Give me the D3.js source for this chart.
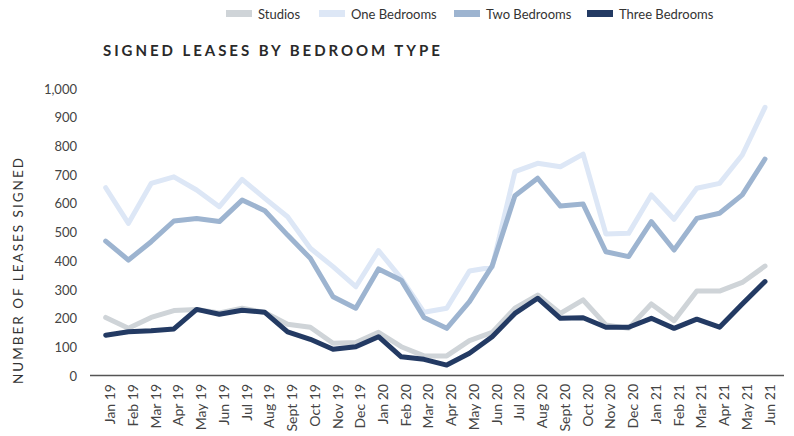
<!DOCTYPE html>
<html><head><meta charset="utf-8">
<script src="https://cdn.jsdelivr.net/npm/d3@7"></script>
<style>body{margin:0;background:#fff}svg{display:block}</style>
</head><body><svg id="c" width="794" height="436"></svg>
<script>
const months = ["Jan 19","Feb 19","Mar 19","Apr 19","May 19","Jun 19","Jul 19","Aug 19","Sept 19","Oct 19","Nov 19","Dec 19","Jan 20","Feb 20","Mar 20","Apr 20","May 20","Jun 20","Jul 20","Aug 20","Sept 20","Oct 20","Nov 20","Dec 20","Jan 21","Feb 21","Mar 21","Apr 21","May 21","Jun 21"];
const studios = [204,166,204,228,232,220,236,221,180,170,114,117,152,102,70,70,123,152,236,282,218,265,178,166,251,193,296,296,326,383];
const oneBed = [656,532,671,694,648,590,685,619,555,445,381,311,437,340,222,236,366,379,712,741,729,773,495,497,631,546,654,671,770,936];
const twoBed = [470,404,468,540,549,538,613,576,491,410,276,236,373,334,204,166,259,384,628,689,592,599,433,416,538,439,549,567,631,756];
const threeBed = [142,154,158,164,232,215,229,222,154,128,93,102,137,67,58,38,79,137,218,271,201,203,170,170,201,166,198,170,251,329];
const seriesNames = ["Studios","One Bedrooms","Two Bedrooms","Three Bedrooms"];
const seriesColors = ["#cfd4d8","#dde7f6","#9db4d0","#233a63"];
const yTicks = [0,100,200,300,400,500,600,700,800,900,1000];

const series = [studios, oneBed, twoBed, threeBed];
const svg = d3.select("#c");
const font = "Lato, 'Open Sans', sans-serif";

const x = d3.scalePoint().domain(months).range([105.7, 765]);
const y = d3.scaleLinear().domain([0, 1000]).range([376, 89]);

// legend
const legX = [226, 319, 454, 587];
seriesNames.forEach((n, i) => {
  svg.append("rect").attr("x", legX[i]).attr("y", 10).attr("width", 26).attr("height", 7).attr("fill", seriesColors[i]);
  svg.append("text").attr("x", legX[i] + 32).attr("y", 18.5).text(n)
    .attr("font-family", font).attr("font-size", 13).attr("fill", "#333");
});

// title
svg.append("text").attr("x", 103).attr("y", 56).text("SIGNED LEASES BY BEDROOM TYPE")
  .attr("font-family", font).attr("font-size", 15).attr("font-weight", 700)
  .attr("letter-spacing", 2.95).attr("fill", "#2a2a2a");

// y-axis title
svg.append("text").attr("transform", "translate(23,270) rotate(-90)").attr("text-anchor", "middle")
  .text("NUMBER OF LEASES SIGNED").attr("font-family", font).attr("font-size", 13.5)
  .attr("letter-spacing", 2).attr("fill", "#333");

// y axis
const yAxis = d3.axisLeft(y).tickValues(yTicks).tickSize(0).tickPadding(0).tickFormat(d3.format(","));
const yg = svg.append("g").attr("transform", "translate(77,0)").call(yAxis);
yg.select(".domain").remove();
yg.selectAll("text").attr("font-family", font).attr("font-size", 13).attr("fill", "#444");

// x axis
const xAxis = d3.axisBottom(x).tickSize(0).tickPadding(0);
const xg = svg.append("g").attr("transform", "translate(0,376)").call(xAxis);
xg.select(".domain").remove();
xg.selectAll("text").attr("font-family", font).attr("font-size", 14).attr("fill", "#444")
  .attr("text-anchor", "end").attr("dy", null).attr("y", 0)
  .attr("transform", "translate(9,8) rotate(-90)");

svg.append("line").attr("x1", 90).attr("x2", 784).attr("y1", 375.5).attr("y2", 375.5)
  .attr("stroke", "#555").attr("stroke-width", 1.5);

// lines
const line = d3.line().x((d, i) => x(months[i])).y(d => y(d));
series.forEach((s, i) => {
  svg.append("path").datum(s).attr("d", line).attr("fill", "none")
    .attr("stroke", seriesColors[i]).attr("stroke-width", 5)
    .attr("stroke-linejoin", "round").attr("stroke-linecap", "round");
});
</script></body></html>
